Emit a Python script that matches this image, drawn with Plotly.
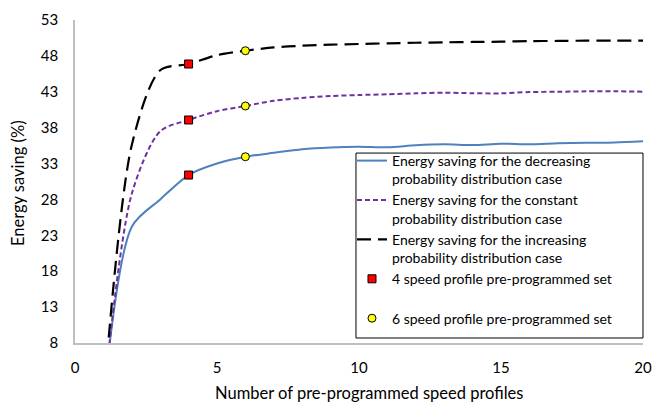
import plotly.graph_objects as go

# Data
x_profiles = list(range(1, 21))
decreasing = [0, 24.2, 28.0, 31.4, 33.0, 33.95, 34.5, 35.0, 35.25, 35.35, 35.27, 35.55,
              35.68, 35.58, 35.76, 35.68, 35.82, 35.9, 35.95, 36.12]
constant = [0, 28.8, 37.5, 39.07, 40.3, 41.02, 41.75, 42.15, 42.4, 42.55, 42.65, 42.78,
            42.87, 42.8, 42.78, 42.96, 43.0, 43.06, 43.07, 43.01]
increasing = [0, 35.6, 46.0, 46.87, 48.1, 48.72, 49.18, 49.42, 49.56, 49.66, 49.75, 49.83,
              49.89, 49.94, 49.98, 50.06, 50.08, 50.12, 50.12, 50.12]

set4_x = [4, 4, 4]
set4_y = [decreasing[3], constant[3], increasing[3]]
set6_x = [6, 6, 6]
set6_y = [decreasing[5], constant[5], increasing[5]]

x_ticks = [0, 5, 10, 15, 20]
y_ticks = [8, 13, 18, 23, 28, 33, 38, 43, 48, 53]

x_title = "Number of pre-programmed speed profiles"
y_title = "Energy saving (%)"

FONT = "Lato"

fig = go.Figure()
fig.add_trace(go.Scatter(
    x=x_profiles, y=decreasing, mode="lines",
    name="Energy saving for the decreasing<br>probability distribution case",
    line=dict(color="#4F81BD", width=2, shape="spline", smoothing=0.8)))
fig.add_trace(go.Scatter(
    x=x_profiles, y=constant, mode="lines",
    name="Energy saving for the constant<br>probability distribution case",
    line=dict(color="#7030A0", width=2, dash="5px,3px", shape="spline", smoothing=0.8)))
fig.add_trace(go.Scatter(
    x=x_profiles, y=increasing, mode="lines",
    name="Energy saving for the increasing<br>probability distribution case",
    line=dict(color="#000000", width=2.2, dash="14px,7px", shape="spline", smoothing=0.8)))
fig.add_trace(go.Scatter(
    x=set4_x, y=set4_y, mode="markers",
    name="4 speed profile pre-programmed set<br> ",
    marker=dict(symbol="square", size=8, color="#FF0000",
                line=dict(color="#000000", width=1))))
fig.add_trace(go.Scatter(
    x=set6_x, y=set6_y, mode="markers",
    name="6 speed profile pre-programmed set",
    marker=dict(symbol="circle", size=8, color="#FFFF00",
                line=dict(color="#000000", width=1))))

# legend frame (drawn as a shape so its padding can match the original)
fig.add_shape(type="rect", xref="paper", yref="paper",
              x0=0.4878, x1=0.9861, y0=0.0155, y1=0.588,
              line=dict(color="#000000", width=1), fillcolor="white", layer="above")

fig.update_layout(
    width=653, height=405,
    margin=dict(l=75, r=2, t=20, b=62, autoexpand=False),
    paper_bgcolor="white", plot_bgcolor="white",
    font=dict(family=FONT, size=14, color="#000000"),
    showlegend=True,
    legend=dict(
        x=0.4809, y=0.613, xanchor="left", yanchor="top",
        bgcolor="rgba(0,0,0,0)", borderwidth=0,
        font=dict(family=FONT, size=14, color="#000000"),
        valign="top", itemwidth=30,
    ),
    xaxis=dict(
        domain=[0, 568 / 576],
        range=[0, 20], tickvals=x_ticks, showgrid=False, zeroline=False,
        showline=True, linecolor="#BFBFBF", linewidth=1.5,
        ticks="", tickfont=dict(family=FONT, size=15),
        ticklabelstandoff=10,
    ),
    yaxis=dict(
        range=[8, 53], tickvals=y_ticks, showgrid=False, zeroline=False,
        showline=True, linecolor="#BFBFBF", linewidth=1.5,
        ticks="", tickfont=dict(family=FONT, size=15),
        ticklabelstandoff=12,
    ),
    annotations=[
        dict(text=x_title, xref="paper", yref="paper", x=0.5105, y=-0.155,
             xanchor="center", yanchor="middle", showarrow=False,
             font=dict(family=FONT, size=16.5, color="#000000")),
        dict(text=y_title, xref="paper", yref="paper", x=-0.099, y=0.495,
             xanchor="center", yanchor="middle", textangle=-90, showarrow=False,
             font=dict(family=FONT, size=16.5, color="#000000")),
    ],
)

fig.write_html("out.html")
